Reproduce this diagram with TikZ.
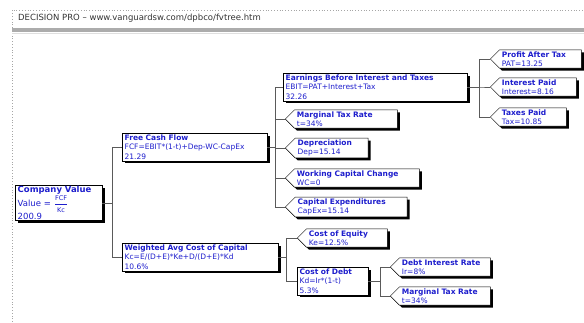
\documentclass[tikz,border=0pt]{standalone}
\usepackage{amsmath}
\usepackage{fontspec}
\setmainfont{DejaVu Sans}
\usetikzlibrary{shapes.symbols, shadows}
\definecolor{dpblue}{RGB}{30,30,205}
\definecolor{dpline}{RGB}{90,90,90}
\tikzset{
	dpbox/.style={draw, fill=white, text=dpblue, align=left, anchor=west,
		font=\fontsize{7.5}{9.5}\selectfont, inner xsep=2.5pt, inner ysep=1.5pt,
		drop shadow={shadow xshift=2.5pt, shadow yshift=-2.5pt, fill=black, opacity=1}},
	dpleaf/.style={dpbox, signal, signal to=west, signal pointer angle=90},
	dplink/.style={draw=dpline, line width=0.6pt}
}
\newcommand{\dpfrac}[2]{\(\displaystyle\frac{\text{\fontsize{6.5}{7}\selectfont #1}}{\text{\fontsize{6.5}{7}\selectfont #2}}\)}

\begin{document}
\begin{tikzpicture}[x=1pt, y=-1pt]
	\useasboundingbox (0,0) rectangle (584,322);

	\draw[gray!70, dotted, line width=0.8pt] (12,322) -- (12,10) -- (584,10);
	\fill[gray!65] (12,28) rectangle (584,31.5);
	\draw[gray!25] (12,33) -- (584,33);
	\node[anchor=west, text=gray!40!black, font=\fontsize{8.5}{10}\selectfont, inner sep=0pt] (title) at (18,18) {DECISION PRO -- www.vanguardsw.com/dpbco/fvtree.htm};

	\node[dpbox, text width=82pt, font=\fontsize{8.5}{10}\selectfont, inner ysep=1pt] (cv) at (15,203) {\textbf{Company Value}\\Value = \dpfrac{FCF}{Kc}\\200.9};

	\node[dpbox, text width=140pt] (fcf) at (122,147) {\textbf{Free Cash Flow}\\FCF=EBIT*(1-t)+Dep-WC-CapEx\\21.29};
	\node[dpbox, text width=151pt] (wacc) at (122,257) {\textbf{Weighted Avg Cost of Capital}\\Kc=E/(D+E)*Ke+D/(D+E)*Kd\\10.6\%};

	\node[dpbox, text width=179pt] (ebit) at (283,87) {\textbf{Earnings Before Interest and Taxes}\\EBIT=PAT+Interest+Tax\\32.26};
	\node[dpleaf, text width=98pt] (mtr) at (285,119) {\textbf{Marginal Tax Rate}\\t=34\%};
	\node[dpleaf, text width=68pt] (dep) at (285,148) {\textbf{Depreciation}\\Dep=15.14};
	\node[dpleaf, text width=120pt] (wcc) at (285,178) {\textbf{Working Capital Change}\\WC=0};
	\node[dpleaf, text width=107pt] (capex) at (285,207) {\textbf{Capital Expenditures}\\CapEx=15.14};

	\node[dpleaf, text width=76pt] (ke) at (297,238) {\textbf{Cost of Equity}\\Ke=12.5\%};
	\node[dpbox, text width=66pt] (kd) at (297,281) {\textbf{Cost of Debt}\\Kd=Ir*(1-t)\\5.3\%};

	\node[dpleaf, text width=86pt] (ir) at (390,267) {\textbf{Debt Interest Rate}\\Ir=8\%};
	\node[dpleaf, text width=86pt] (mtrd) at (390,296) {\textbf{Marginal Tax Rate}\\t=34\%};

	\node[dpleaf, text width=77pt] (pat) at (490,59) {\textbf{Profit After Tax}\\PAT=13.25};
	\node[dpleaf, text width=72pt] (int) at (490,87) {\textbf{Interest Paid}\\Interest=8.16};
	\node[dpleaf, text width=62pt] (tax) at (490,117) {\textbf{Taxes Paid}\\Tax=10.85};

	\draw[dplink] (cv.east) -- ++(10,0) |- (fcf.west);
	\draw[dplink] (cv.east) -- ++(10,0) |- (wacc.west);

	\draw[dplink] (fcf.east) -- ++(8,0) |- (ebit.west);
	\draw[dplink] (fcf.east) -- ++(8,0) |- (mtr.west);
	\draw[dplink] (fcf.east) -- ++(8,0) |- (dep.west);
	\draw[dplink] (fcf.east) -- ++(8,0) |- (wcc.west);
	\draw[dplink] (fcf.east) -- ++(8,0) |- (capex.west);

	\draw[dplink] (wacc.east) -- ++(8,0) |- (ke.west);
	\draw[dplink] (wacc.east) -- ++(8,0) |- (kd.west);

	\draw[dplink] (kd.east) -- ++(12,0) |- (ir.west);
	\draw[dplink] (kd.east) -- ++(12,0) |- (mtrd.west);

	\draw[dplink] (ebit.east) -- ++(12,0) |- (pat.west);
	\draw[dplink] (ebit.east) -- ++(12,0) |- (int.west);
	\draw[dplink] (ebit.east) -- ++(12,0) |- (tax.west);
\end{tikzpicture}
\end{document}
